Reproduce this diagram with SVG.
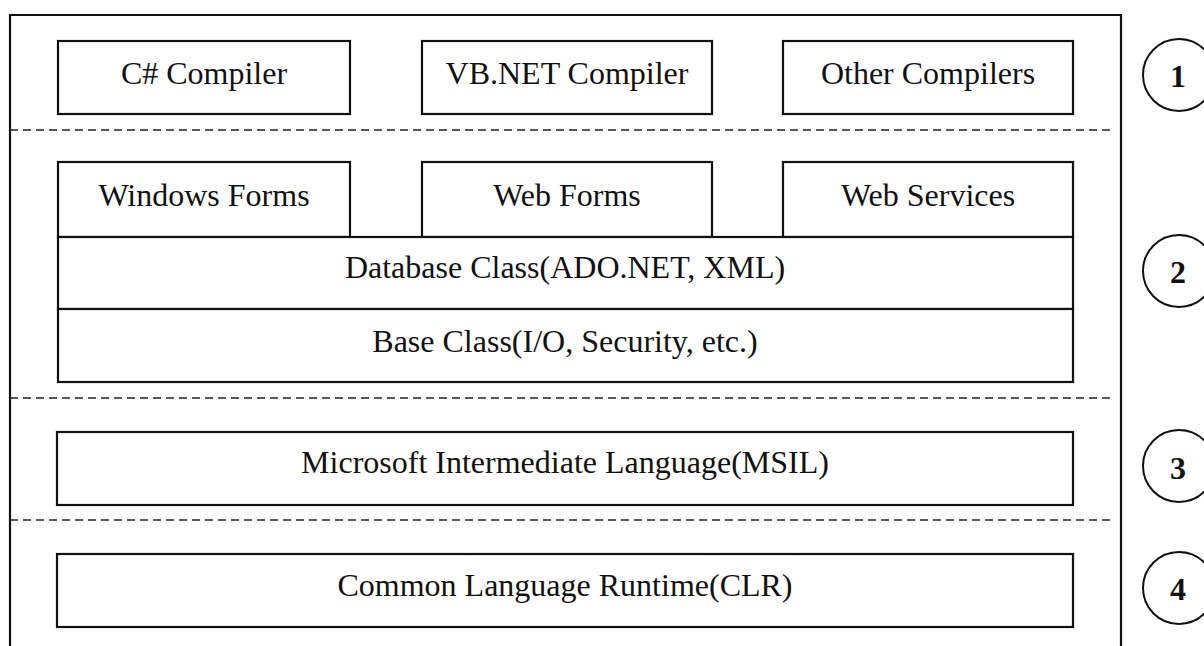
<svg xmlns="http://www.w3.org/2000/svg" width="1204" height="646" viewBox="0 0 1204 646">
<style>
.box{fill:#fff;stroke:#111;stroke-width:2.2}
.frame{fill:none;stroke:#111;stroke-width:2.2}
.dash{stroke:#222;stroke-width:1.5;stroke-dasharray:8 5;fill:none}
.lbl{font-family:"Liberation Serif","Times New Roman",serif;font-size:32px;fill:#111;text-anchor:middle}
.num{font-family:"Liberation Serif","Times New Roman",serif;font-size:32px;font-weight:bold;fill:#111;text-anchor:middle}
.ring{fill:#fff;stroke:#111;stroke-width:2}
</style>
<rect width="1204" height="646" fill="#fff"/>
<g id="frame">
<path class="frame" d="M10,660 V15 H1121 V660"/>
</g>
<g id="separators">
<line class="dash" x1="10" y1="130" x2="1113" y2="130"/>
<line class="dash" x1="10" y1="398" x2="1113" y2="398"/>
<line class="dash" x1="10" y1="520" x2="1113" y2="520"/>
</g>
<g id="csharp"><rect class="box" x="58" y="41" width="292" height="73"/><text class="lbl" x="204" y="84">C# Compiler</text></g>
<g id="vbnet"><rect class="box" x="422" y="41" width="290" height="73"/><text class="lbl" x="567" y="84">VB.NET Compiler</text></g>
<g id="other"><rect class="box" x="783" y="41" width="290" height="73"/><text class="lbl" x="928" y="84">Other Compilers</text></g>
<g id="winforms"><rect class="box" x="58" y="162" width="292" height="75"/><text class="lbl" x="204" y="206">Windows Forms</text></g>
<g id="webforms"><rect class="box" x="422" y="162" width="290" height="75"/><text class="lbl" x="567" y="206">Web Forms</text></g>
<g id="websvc"><rect class="box" x="783" y="162" width="290" height="75"/><text class="lbl" x="928" y="206">Web Services</text></g>
<g id="database"><rect class="box" x="58" y="237" width="1015" height="72"/><text class="lbl" x="565" y="278">Database Class(ADO.NET, XML)</text></g>
<g id="baseclass"><rect class="box" x="58" y="309" width="1015" height="73"/><text class="lbl" x="565" y="352">Base Class(I/O, Security, etc.)</text></g>
<g id="msil"><rect class="box" x="57" y="432" width="1016" height="73"/><text class="lbl" x="565" y="473">Microsoft Intermediate Language(MSIL)</text></g>
<g id="clr"><rect class="box" x="57" y="554" width="1016" height="73"/><text class="lbl" x="565" y="596">Common Language Runtime(CLR)</text></g>
<g id="n1"><ellipse class="ring" cx="1179" cy="75" rx="36" ry="36"/><text class="num" x="1178" y="87">1</text></g>
<g id="n2"><ellipse class="ring" cx="1179" cy="271" rx="36" ry="36"/><text class="num" x="1178" y="283">2</text></g>
<g id="n3"><ellipse class="ring" cx="1179" cy="466" rx="36" ry="36"/><text class="num" x="1178" y="479">3</text></g>
<g id="n4"><ellipse class="ring" cx="1179" cy="588" rx="36" ry="36"/><text class="num" x="1178" y="600">4</text></g>
</svg>
